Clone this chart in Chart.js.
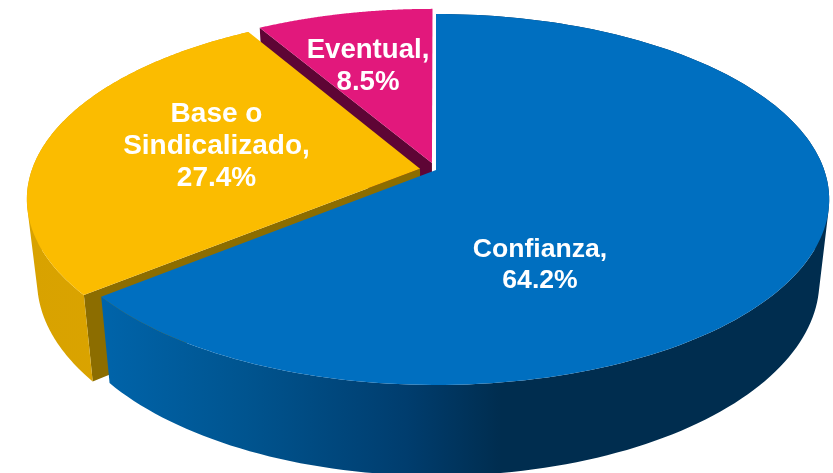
<!DOCTYPE html>
<html>
<head>
<meta charset="utf-8">
<title>Distribución por tipo de contratación</title>
<style>
html,body{margin:0;padding:0;background:#fff;overflow:hidden}
canvas{display:block}
</style>
<script src="https://cdn.jsdelivr.net/npm/chart.js@4/dist/chart.umd.js"></script>
</head>
<body>
<canvas id="c" width="833" height="473"></canvas>
<script>
const categories = ['Confianza', 'Base o Sindicalizado', 'Eventual'];
const values = [64.2, 27.4, 8.5];
const explodeOffsets = [0, 9.7, 9.2];
const topColors = ['#006fc0', '#fbbc00', '#e2187c'];
const wallColors = ['#00406f', '#8c6d00', '#5e0535'];
const rimStops = [
  [[0, '#0064aa'], [0.2, '#00548f'], [0.42, '#003d6e'], [0.55, '#002d4f'], [1, '#002d4f']],
  [[0, '#d8a200'], [1, '#dea600']],
  [[0, '#8c1050'], [1, '#8c1050']]
];
const labelLines = [['Confianza,'], ['Base o', 'Sindicalizado,'], ['Eventual,']];
const labelX = [540, 216.5, 368];
const labelFirstBaseline = [257, 122, 58];
const labelLineHeight = [31, 32, 32];
const labelFontSize = [26.6, 28, 27.6];

const view = { x0: 436, y0: 170, A: 388.2, B: 180.8, p: 0.159, sx: 0.975, drop: 80, dropGrow: 0.05 };

function project(u, v) {
  const w = 1 + view.p * v;
  return [view.x0 + view.A * u / w, view.y0 - view.B * v / w];
}
function lower(pt) {
  return [view.x0 + (pt[0] - view.x0) * view.sx, pt[1] + view.drop + (pt[1] - view.y0) * view.dropGrow];
}
function slicePoints(el) {
  const d = el.options.offset / el.outerRadius;
  const a0 = el.startAngle + Math.PI / 2, a1 = el.endAngle + Math.PI / 2;
  const mid = (a0 + a1) / 2;
  const ou = Math.sin(mid) * d, ov = Math.cos(mid) * d;
  const apex = project(ou, ov);
  const arc = [];
  const n = 160;
  for (let i = 0; i <= n; i++) {
    const t = a0 + (a1 - a0) * i / n;
    arc.push(project(ou + Math.sin(t), ov + Math.cos(t)));
  }
  return { apex, arc };
}
function fillPoly(ctx, pts, fill) {
  ctx.beginPath();
  pts.forEach((p, i) => i ? ctx.lineTo(p[0], p[1]) : ctx.moveTo(p[0], p[1]));
  ctx.closePath();
  ctx.fillStyle = fill;
  ctx.fill();
}
function fillRim(ctx, arc, lowArc, fill) {
  // every strip of the side wall wound the same way, so their union fills the silhouette
  ctx.beginPath();
  for (let k = 0; k < arc.length - 1; k++) {
    let q = [arc[k], arc[k + 1], lowArc[k + 1], lowArc[k]];
    let area = 0;
    q.forEach((p, j) => { const r = q[(j + 1) % 4]; area += p[0] * r[1] - r[0] * p[1]; });
    if (area < 0) q = q.reverse();
    q.forEach((p, j) => j ? ctx.lineTo(p[0], p[1]) : ctx.moveTo(p[0], p[1]));
    ctx.closePath();
  }
  ctx.fillStyle = fill;
  ctx.fill('nonzero');
}

const perspectivePie = {
  id: 'perspectivePie',
  beforeDatasetDraw(chart, args) {
    const ctx = chart.ctx;
    const els = chart.getDatasetMeta(args.index).data;
    ctx.save();
    // paint far slices first, near slice last
    [2, 1, 0].forEach(i => {
      const { apex, arc } = slicePoints(els[i]);
      const lowArc = arc.map(lower);
      const first = arc[0], lowFirst = lowArc[0];
      // cut wall seen by the viewer
      if (i !== 0) {
        fillPoly(ctx, [apex, first, lowFirst, lower(apex)], wallColors[i]);
      }
      // outer rim
      if (i !== 2) {
        const xs = arc.concat(lowArc).map(p => p[0]);
        const g = ctx.createLinearGradient(Math.min(...xs), 0, Math.max(...xs), 0);
        rimStops[i].forEach(s => g.addColorStop(s[0], s[1]));
        fillRim(ctx, arc, lowArc, g);
      }
      // top face
      fillPoly(ctx, [apex].concat(arc), topColors[i]);
    });
    ctx.restore();
    return false;
  },
  afterDatasetsDraw(chart) {
    const ctx = chart.ctx;
    ctx.save();
    ctx.fillStyle = '#ffffff';
    ctx.textAlign = 'center';
    ctx.textBaseline = 'alphabetic';
    values.forEach((val, i) => {
      ctx.font = 'bold ' + labelFontSize[i] + 'px "Liberation Sans", Arial, sans-serif';
      const lines = labelLines[i].concat([val.toFixed(1) + '%']);
      lines.forEach((ln, k) => ctx.fillText(ln, labelX[i], labelFirstBaseline[i] + k * labelLineHeight[i]));
    });
    ctx.restore();
  }
};

new Chart(document.getElementById('c'), {
  type: 'pie',
  data: {
    labels: categories,
    datasets: [{ data: values, backgroundColor: topColors, borderWidth: 0, offset: explodeOffsets }]
  },
  options: {
    responsive: false,
    animation: false,
    rotation: 0,
    layout: { padding: 0 },
    plugins: { legend: { display: false }, tooltip: { enabled: false } }
  },
  plugins: [perspectivePie]
});
</script>
</body>
</html>
